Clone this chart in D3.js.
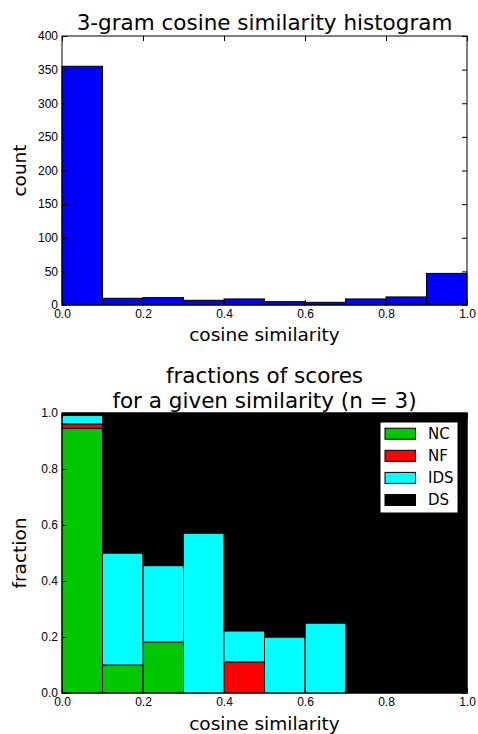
<!DOCTYPE html>
<html>
<head>
<meta charset="utf-8">
<script src="https://cdn.jsdelivr.net/npm/d3@7"></script>
<style>
  body { margin: 0; background: #fff; }
  svg { display: block; font-family: "DejaVu Sans", sans-serif; }
  .tick text { font-size: 12px; fill: #000; }
  .tick line { stroke: #000; }
</style>
</head>
<body>
<div id="chart"></div>
<script>
// histogram bins of cosine similarity
var binEdges = [0, 0.1, 0.2, 0.3, 0.4, 0.5, 0.6, 0.7, 0.8, 0.9, 1.0];
var counts = [355, 10, 11, 7, 9, 5, 4, 9, 12, 47];

// fractions of scores per bin
var seriesNames = ["NC", "NF", "IDS", "DS"];
var seriesColors = ["#00c800", "#ff0000", "#00ffff", "#000000"];
var fracNC = [0.945, 0.1, 0.182, 0, 0, 0, 0, 0, 0, 0];
var fracNF = [0.016, 0, 0, 0, 0.111, 0, 0, 0, 0, 0];
var fracIDS = [0.030, 0.4, 0.273, 0.571, 0.111, 0.2, 0.25, 0, 0, 0];
var fracDS = [0.009, 0.5, 0.545, 0.429, 0.778, 0.8, 0.75, 1, 1, 1];

var xTicks = [0, 0.2, 0.4, 0.6, 0.8, 1.0];
var countTicks = [0, 50, 100, 150, 200, 250, 300, 350, 400];
var fracTicks = [0, 0.2, 0.4, 0.6, 0.8, 1.0];

var width = 478, height = 734;

var svg = d3.select("#chart").append("svg")
            .attr("width", width)
            .attr("height", height);

var left = 62, right = 467;

function drawAxes(g, x, y, yTicks, yFmt, top, bottom) {
  var tick = 5;
  g.append("g")
   .attr("transform", "translate(0," + bottom + ")")
   .call(d3.axisBottom(x).tickValues(xTicks).tickFormat(d3.format(".1f"))
           .tickSizeInner(-tick).tickSizeOuter(0).tickPadding(4.5))
   .call(a => a.select(".domain").remove());
  g.append("g")
   .attr("transform", "translate(0," + top + ")")
   .call(d3.axisTop(x).tickValues(xTicks).tickFormat("")
           .tickSizeInner(-tick).tickSizeOuter(0))
   .call(a => a.select(".domain").remove());
  g.append("g")
   .attr("transform", "translate(" + left + ",0)")
   .call(d3.axisLeft(y).tickValues(yTicks).tickFormat(yFmt)
           .tickSizeInner(-tick).tickSizeOuter(0).tickPadding(4))
   .call(a => a.select(".domain").remove());
  g.append("g")
   .attr("transform", "translate(" + right + ",0)")
   .call(d3.axisRight(y).tickValues(yTicks).tickFormat("")
           .tickSizeInner(-tick).tickSizeOuter(0))
   .call(a => a.select(".domain").remove());
  g.selectAll(".tick text").attr("font-family", null).attr("font-size", null);
  g.append("rect")
   .attr("x", left).attr("y", top)
   .attr("width", right - left).attr("height", bottom - top)
   .attr("fill", "none").attr("stroke", "#000").attr("stroke-width", 1);
}

// ---- top: histogram ----
var top1 = 36, bottom1 = 305;
var x1 = d3.scaleLinear().domain([0, 1]).range([left, right]);
var y1 = d3.scaleLinear().domain([0, 400]).range([bottom1, top1]);

var g1 = svg.append("g");

g1.selectAll("rect.bar")
  .data(counts)
  .enter().append("rect")
  .attr("class", "bar")
  .attr("x", (d, i) => x1(binEdges[i]))
  .attr("width", (d, i) => x1(binEdges[i + 1]) - x1(binEdges[i]))
  .attr("y", d => y1(d))
  .attr("height", d => y1(0) - y1(d))
  .attr("fill", "#0000ff")
  .attr("stroke", "#000")
  .attr("stroke-width", 1);

drawAxes(g1, x1, y1, countTicks, d3.format("d"), top1, bottom1);

svg.append("text")
   .attr("x", (left + right) / 2).attr("y", 30)
   .attr("text-anchor", "middle").attr("font-size", 21.5)
   .text("3-gram cosine similarity histogram");

svg.append("text")
   .attr("x", (left + right) / 2).attr("y", 341)
   .attr("text-anchor", "middle").attr("font-size", 18.5)
   .text("cosine similarity");

svg.append("text")
   .attr("transform", "translate(26," + (top1 + bottom1) / 2 + ") rotate(-90)")
   .attr("text-anchor", "middle").attr("font-size", 18.5)
   .text("count");

// ---- bottom: stacked fractions ----
var top2 = 413, bottom2 = 693;
var x2 = d3.scaleLinear().domain([0, 1]).range([left, right]);
var y2 = d3.scaleLinear().domain([0, 1]).range([bottom2, top2]);

var rows = counts.map((c, i) => ({
  i: i,
  NC: fracNC[i], NF: fracNF[i], IDS: fracIDS[i], DS: fracDS[i]
}));

var stack = d3.stack().keys(seriesNames)(rows);
var color = d3.scaleOrdinal().domain(seriesNames).range(seriesColors);

var g2 = svg.append("g");

g2.selectAll("g.layer")
  .data(stack)
  .enter().append("g")
  .attr("class", "layer")
  .attr("fill", d => color(d.key))
  .selectAll("rect")
  .data(d => d.filter(s => s[1] - s[0] > 0))
  .enter().append("rect")
  .attr("x", d => x2(binEdges[d.data.i]))
  .attr("width", d => x2(binEdges[d.data.i + 1]) - x2(binEdges[d.data.i]))
  .attr("y", d => y2(d[1]))
  .attr("height", d => y2(d[0]) - y2(d[1]))
  .attr("stroke", "#000")
  .attr("stroke-width", 1);

drawAxes(g2, x2, y2, fracTicks, d3.format(".1f"), top2, bottom2);

svg.append("text")
   .attr("x", (left + right) / 2).attr("y", 383)
   .attr("text-anchor", "middle").attr("font-size", 21.5)
   .text("fractions of scores");
svg.append("text")
   .attr("x", (left + right) / 2).attr("y", 408)
   .attr("text-anchor", "middle").attr("font-size", 21.5)
   .text("for a given similarity (n = 3)");

svg.append("text")
   .attr("x", (left + right) / 2).attr("y", 730)
   .attr("text-anchor", "middle").attr("font-size", 18.5)
   .text("cosine similarity");

svg.append("text")
   .attr("transform", "translate(26," + (top2 + bottom2) / 2 + ") rotate(-90)")
   .attr("text-anchor", "middle").attr("font-size", 18.5)
   .text("fraction");

// legend
var legend = svg.append("g").attr("transform", "translate(380,422)");
legend.append("rect")
      .attr("width", 78).attr("height", 91)
      .attr("fill", "#fff").attr("stroke", "#000").attr("stroke-width", 1);

var item = legend.selectAll("g.item")
                 .data(seriesNames)
                 .enter().append("g")
                 .attr("class", "item")
                 .attr("transform", (d, i) => "translate(0," + (11.7 + i * 22.1) + ")");

item.append("rect")
    .attr("x", 5).attr("y", -5.5)
    .attr("width", 30.5).attr("height", 11)
    .attr("fill", d => color(d))
    .attr("stroke", "#000").attr("stroke-width", 1);

item.append("text")
    .attr("x", 48).attr("dy", "0.36em")
    .attr("font-size", 15)
    .text(d => d);
</script>
</body>
</html>
